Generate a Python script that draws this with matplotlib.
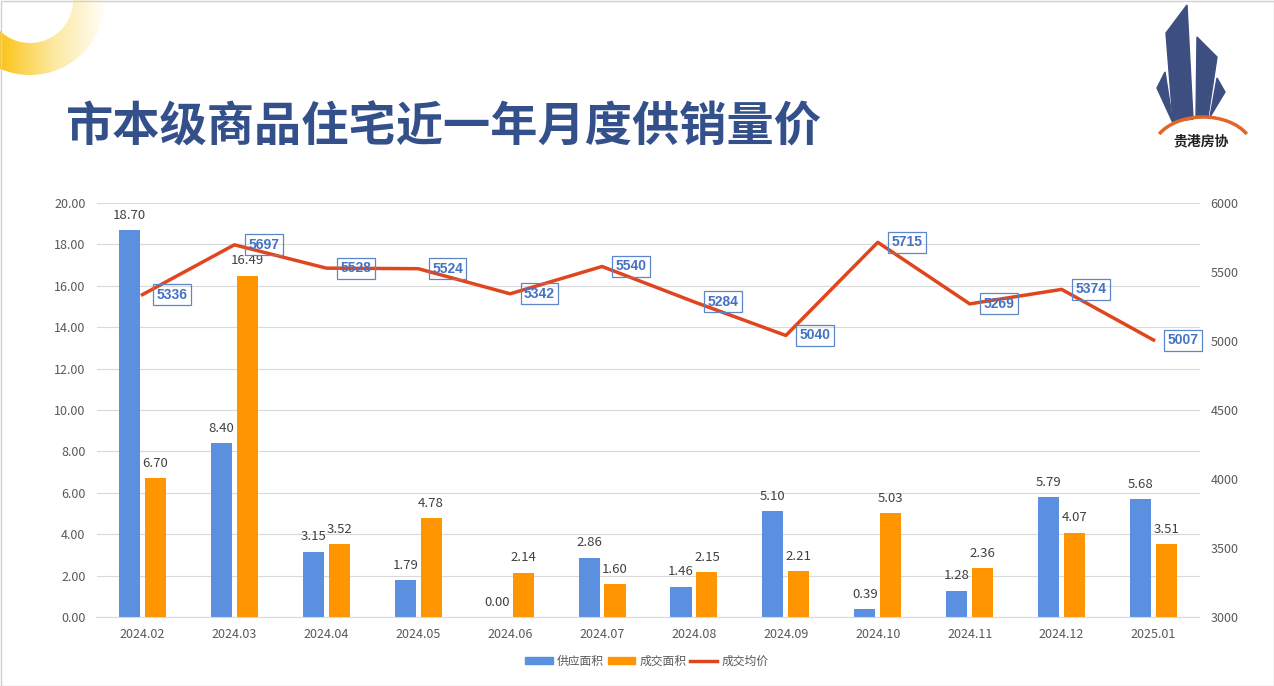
import numpy as np
import matplotlib.pyplot as plt
from matplotlib.colors import LinearSegmentedColormap
from matplotlib.patches import Wedge, Polygon, Rectangle, Arc, Patch
from matplotlib.lines import Line2D

plt.rcParams['font.family'] = ['Noto Sans CJK SC', 'DejaVu Sans']

# данные
months = ['2024.02', '2024.03', '2024.04', '2024.05', '2024.06', '2024.07',
          '2024.08', '2024.09', '2024.10', '2024.11', '2024.12', '2025.01']
supply = [18.70, 8.40, 3.15, 1.79, 0.00, 2.86, 1.46, 5.10, 0.39, 1.28, 5.79, 5.68]
deal = [6.70, 16.49, 3.52, 4.78, 2.14, 1.60, 2.15, 2.21, 5.03, 2.36, 4.07, 3.51]
price = [5336, 5697, 5528, 5524, 5342, 5540, 5284, 5040, 5715, 5269, 5374, 5007]

c_blue = '#5B8FE0'
c_orange = '#FF9500'
c_line = '#E0461E'
c_text = '#404040'
c_tick = '#595959'
c_title = '#34508A'

fig = plt.figure(figsize=(12.74, 6.86), dpi=100)
fig.patch.set_facecolor('white')

# декор: жёлтое кольцо с градиентом
deco = fig.add_axes([0, 0, 1, 1])
ring = Wedge((30, 0), 75, 0, 360, width=32, transform=deco.transData)
grad = np.linspace(1, 0, 256).reshape(1, -1)
cmap = LinearSegmentedColormap.from_list('y', ['white', '#FDE9A0', '#FCC419'])
im = deco.imshow(np.vstack([grad, grad]), extent=(0, 108, 80, -5), cmap=cmap,
                 vmin=0, vmax=1, aspect='auto', zorder=1)
deco.add_patch(ring)
ring.set_visible(False)
im.set_clip_path(ring)
deco.set_xlim(0, 1274)
deco.set_ylim(686, 0)
deco.axis('off')

# рамка
deco.add_patch(Rectangle((0.5, 0.5), 1273, 685, fill=False, edgecolor='#D0D0D0', lw=1))

# логотип
navy = '#3D4E80'
deco.add_patch(Polygon([(1166, 33), (1187, 5), (1193, 119), (1173, 122)], color=navy))
deco.add_patch(Polygon([(1197, 37), (1217, 57), (1208, 117), (1196, 118)], color=navy))
deco.add_patch(Polygon([(1165, 72), (1157, 88), (1173, 123)], color=navy))
deco.add_patch(Polygon([(1217, 78), (1225, 92), (1210, 117)], color=navy))
deco.add_patch(Arc((1203, 150), 100, 66, theta1=200, theta2=340, color='#E2662A', lw=2.5))
deco.text(1201, 141, '贵港房协', fontsize=10, color='#222222', ha='center', va='center', weight='bold')

# заголовок
fig.text(66, 686 - 128, '市本级商品住宅近一年月度供销量价', transform=None,
         fontsize=34, weight='heavy', color=c_title, va='center', ha='left')

ax = fig.add_axes([96.5 / 1274, 1 - 617 / 686, 1103 / 1274, 414 / 686])
x = np.arange(len(months))
w = 0.23
off = 0.141
ax.bar(x - off, supply, w, color=c_blue, zorder=2)
ax.bar(x + off, deal, w, color=c_orange, zorder=2)
for xi, v in zip(x - off, supply):
    ax.annotate(f'{v:.2f}', (xi, v), xytext=(0, 6), textcoords='offset points',
                ha='center', va='bottom', fontsize=9.5, color=c_text)
for xi, v in zip(x + off, deal):
    ax.annotate(f'{v:.2f}', (xi, v), xytext=(0, 6), textcoords='offset points',
                ha='center', va='bottom', fontsize=9.5, color=c_text)

ax.set_xlim(-0.5, len(months) - 0.5)
ax.set_ylim(0, 20)
ax.set_yticks(np.arange(0, 21, 2))
ax.set_yticklabels([f'{t:.2f}' for t in np.arange(0, 21, 2)])
ax.set_xticks(x)
ax.set_xticklabels(months)
ax.tick_params(axis='both', length=0, labelsize=9, labelcolor=c_tick)
ax.tick_params(axis='y', pad=8)
ax.tick_params(axis='x', pad=8)
ax.grid(axis='y', color='#D9D9D9', lw=0.8, zorder=0)
for s in ['top', 'left', 'right']:
    ax.spines[s].set_visible(False)
ax.spines['bottom'].set_color('#D9D9D9')
ax.set_facecolor('none')

ax2 = ax.twinx()
ax2.plot(x, price, color=c_line, lw=2.5, zorder=3)
ax2.set_ylim(3000, 6000)
ax2.set_yticks(np.arange(3000, 6001, 500))
ax2.tick_params(axis='y', length=0, labelsize=9, labelcolor=c_tick, pad=8)
for s in ['top', 'left', 'right', 'bottom']:
    ax2.spines[s].set_visible(False)
for xi, v in zip(x, price):
    ax2.annotate(f'{v}', (xi, v), xytext=(10, 0), textcoords='offset points',
                 ha='left', va='center', fontsize=10, weight='bold', color='#4472C4',
                 family=['Liberation Sans', 'DejaVu Sans'],
                 bbox=dict(boxstyle='square,pad=0.25', fc='none', ec='#5B87C8', lw=0.9))

handles = [Patch(color=c_blue, label='供应面积'), Patch(color=c_orange, label='成交面积'),
           Line2D([], [], color=c_line, lw=2.5, label='成交均价')]
fig.legend(handles=handles, loc='center', bbox_to_anchor=(647 / 1274, 1 - 661 / 686), ncol=3,
           frameon=False, fontsize=8.5, labelcolor=c_tick, handlelength=2.3, handleheight=0.6,
           columnspacing=0.35, handletextpad=0.35)

fig.savefig('out.png', dpi=100)
